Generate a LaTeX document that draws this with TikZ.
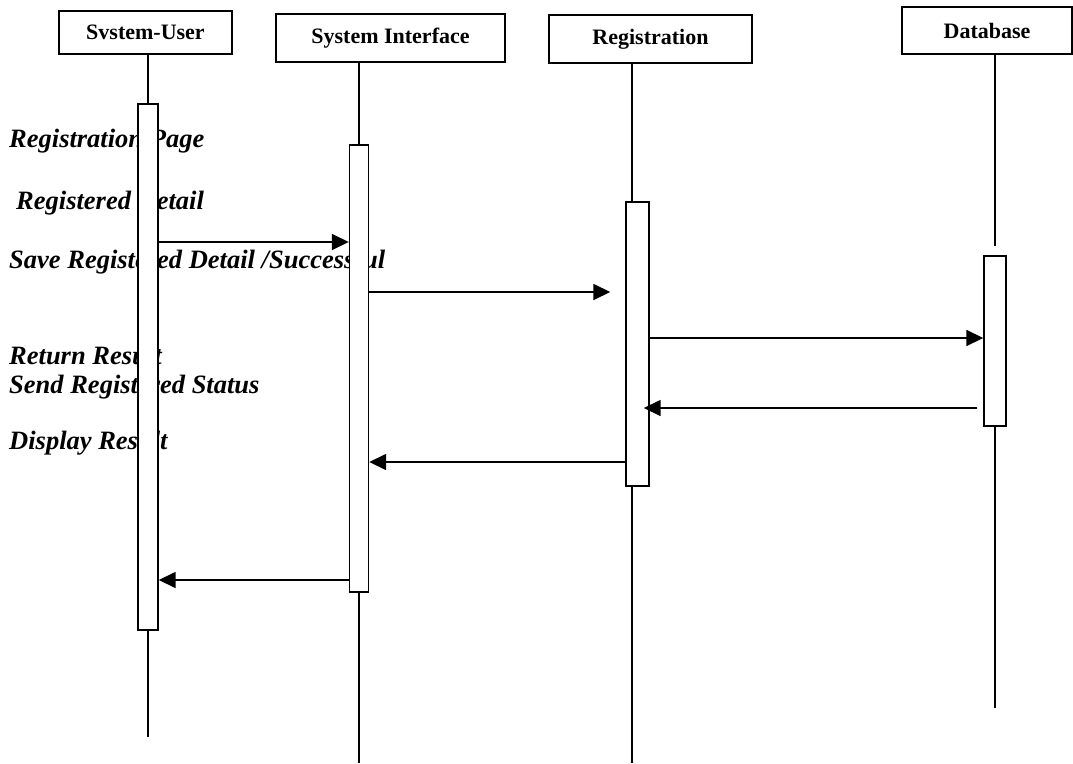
\documentclass[tikz,border=0pt]{standalone}
\usepackage{fontspec}
\setmainfont{Liberation Serif}
\usepackage{tikz}
\usetikzlibrary{arrows.meta,calc,positioning}

\tikzset{
  obj/.style={draw, line width=1.4pt, inner sep=0pt, font=\bfseries\fontsize{22}{26}\selectfont},
  act/.style={draw, fill=white, line width=1.4pt, inner sep=0pt},
  life/.style={line width=1.6pt},
  msg/.style={line width=1.6pt, -{Triangle[length=17pt,width=16pt]}},
  lbl/.style={anchor=base west, inner sep=0pt, font=\bfseries\itshape\fontsize{26.5}{30}\selectfont}
}

\begin{document}
\begin{tikzpicture}[x=1pt,y=-1pt]
  \useasboundingbox (0,0) rectangle (1073,763);

  % messages written down the left side
  \node[lbl] (lpage)   at (9,147)  {Registration Page};
  \node[lbl] (ldetail) at (16,209) {Registered Detail};
  \node[lbl] (lsave)   at (9,268)  {Save Registered Detail /Successful};
  \node[lbl] (lreturn) at (9,364)  {Return Result};
  \node[lbl] (lsend)   at (9,393)  {Send Registered Status};
  \node[lbl] (ldisp)   at (9,449)  {Display Result};

  % objects
  \node[obj, minimum width=173pt, minimum height=43pt] (user) at (145.5,32.5) {Svstem-User};
  \node[obj, minimum width=229pt, minimum height=48pt] (si)   at (390.5,38)   {System Interface};
  \node[obj, minimum width=203pt, minimum height=48pt] (reg)  at (650.5,39)   {Registration};
  \node[obj, minimum width=170pt, minimum height=47pt] (db)   at (987,30.5)   {Database};

  % activations
  \node[act, minimum width=20pt, minimum height=526pt] (useract) at (148,367)   {};
  \node[act, minimum width=19pt, minimum height=447pt] (siact)   at (359,368.5) {};
  \node[act, minimum width=23pt, minimum height=284pt] (regact)  at (637.5,344) {};
  \node[act, minimum width=22pt, minimum height=170pt] (dbact)   at (995,341)   {};

  % ends of the lifelines
  \coordinate (userend) at (148,737);
  \coordinate (siend)   at (359,763);
  \coordinate (regend)  at (632,763);
  \coordinate (dbgap)   at (995,246);
  \coordinate (dbend)   at (995,708);

  % lifelines
  \draw[life] (user.south -| useract) -- (useract.north);
  \draw[life] (useract.south) -- (userend);
  \draw[life] (si.south -| siact) -- (siact.north);
  \draw[life] (siact.south) -- (siend);
  \draw[life] ([xshift=-5.5pt]regact.north |- reg.south) -- ([xshift=-5.5pt]regact.north);
  \draw[life] ([xshift=-5.5pt]regact.south) -- (regend);
  \draw[life] (db.south -| dbact) -- (dbgap);
  \draw[life] (dbact.south) -- (dbend);

  % message rows
  \coordinate (m1) at (0,242);
  \coordinate (m2) at (0,292);
  \coordinate (m3) at (0,338);
  \coordinate (m4) at (0,408);
  \coordinate (m5) at (0,462);
  \coordinate (m6) at (0,580);

  \draw[msg] (useract.east |- m1) -- (siact.west |- m1);
  \draw[msg] (siact.east |- m2) -- ([xshift=-15pt]regact.west |- m2);
  \draw[msg] (regact.east |- m3) -- (dbact.west |- m3);
  \draw[msg] ([xshift=-6pt]dbact.west |- m4) -- ([xshift=-6pt]regact.east |- m4);
  \draw[msg] (regact.west |- m5) -- (siact.east |- m5);
  \draw[msg] (siact.west |- m6) -- (useract.east |- m6);
\end{tikzpicture}
\end{document}
